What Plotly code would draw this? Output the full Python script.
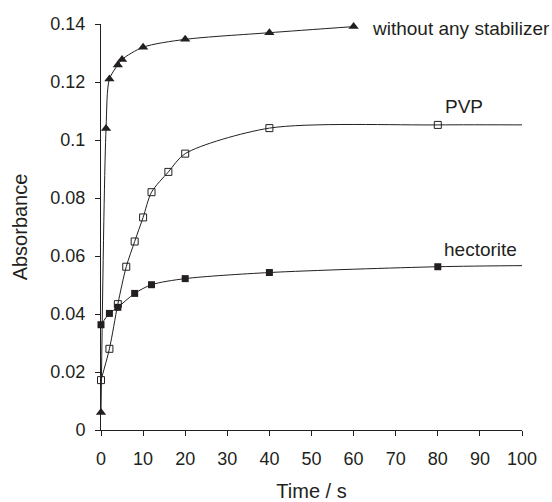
import plotly.graph_objects as go

# Data
stab_t = [0, 1.2, 2, 4, 5, 10, 20, 40, 60]
stab_a = [0.006, 0.104, 0.121, 0.1259, 0.1278, 0.132, 0.1347, 0.137, 0.1391]

pvp_t = [0, 2, 4, 6, 8, 10, 12, 16, 20, 40, 80]
pvp_a = [0.0172, 0.028, 0.0434, 0.0563, 0.065, 0.0733, 0.082, 0.089, 0.0953, 0.1041, 0.1052]

hect_t = [0, 2, 4, 8, 12, 20, 40, 80]
hect_a = [0.0363, 0.0402, 0.0423, 0.0471, 0.0501, 0.0522, 0.0543, 0.0563]

# fitted-curve tails beyond the last marker
pvp_tail_t, pvp_tail_a = [101.5], [0.1052]
hect_tail_t, hect_tail_a = [101.5], [0.0567]

labels = ["without any stabilizer", "PVP", "hectorite"]
label_t = [63.9, 81.3, 80.9]
label_a = [0.1386, 0.1115, 0.0621]

x_ticks = list(range(0, 101, 10))
y_ticks = [0, 0.02, 0.04, 0.06, 0.08, 0.1, 0.12, 0.14]
y_tick_text = ["0", "0.02", "0.04", "0.06", "0.08", "0.1", "0.12", "0.14"]

INK = "#231f20"
FONT = "Liberation Sans, Arial, sans-serif"

fig = go.Figure()

def curve(t, a):
    fig.add_trace(go.Scatter(x=t, y=a, mode="lines",
                             line=dict(color=INK, width=1, shape="spline", smoothing=0.8),
                             cliponaxis=False, hoverinfo="skip", showlegend=False))

curve(stab_t, stab_a)
curve(pvp_t + pvp_tail_t, pvp_a + pvp_tail_a)
curve(hect_t + hect_tail_t, hect_a + hect_tail_a)

fig.add_trace(go.Scatter(x=stab_t, y=stab_a, mode="markers",
                         marker=dict(symbol="triangle-up", size=9, color=INK),
                         cliponaxis=False, showlegend=False))
fig.add_trace(go.Scatter(x=pvp_t, y=pvp_a, mode="markers",
                         marker=dict(symbol="square-open", size=7, color=INK, line=dict(width=1)),
                         cliponaxis=False, showlegend=False))
fig.add_trace(go.Scatter(x=hect_t, y=hect_a, mode="markers",
                         marker=dict(symbol="square", size=7, color=INK),
                         cliponaxis=False, showlegend=False))

for txt, t, a in zip(labels, label_t, label_a):
    fig.add_annotation(x=t, y=a, text=txt, showarrow=False, xanchor="left", yanchor="middle",
                       font=dict(family=FONT, size=19, color=INK))

axis_common = dict(showgrid=False, zeroline=False, showline=True, linecolor=INK, linewidth=1,
                   ticks="outside", ticklen=5, tickcolor=INK, tickwidth=1, automargin=False,
                   tickfont=dict(family=FONT, size=18, color=INK))

fig.update_xaxes(range=[0, 100], tickvals=x_ticks,
                 title=dict(text="Time / s", font=dict(family=FONT, size=20, color=INK), standoff=16),
                 ticklabelstandoff=7, **axis_common)
fig.update_yaxes(range=[0, 0.14], tickvals=y_ticks, ticktext=y_tick_text,
                 title=dict(text="Absorbance", font=dict(family=FONT, size=20, color=INK), standoff=17),
                 ticklabelstandoff=6, **axis_common)

fig.update_layout(width=552, height=502, margin=dict(l=101, r=30, t=24, b=72),
                  plot_bgcolor="white", paper_bgcolor="white", showlegend=False)

fig.write_html("out.html")
